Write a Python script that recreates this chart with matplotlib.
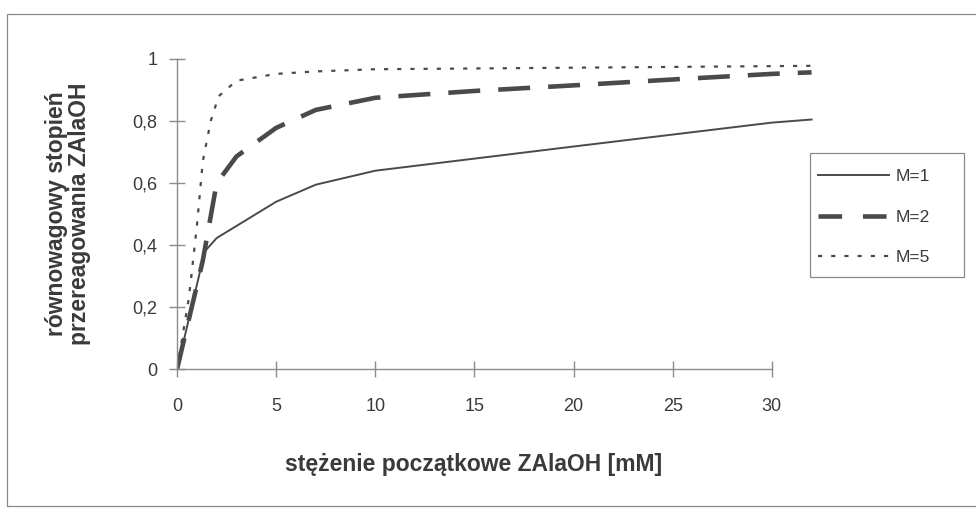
import matplotlib
matplotlib.use("Agg")
import matplotlib.pyplot as plt
from matplotlib.patches import Rectangle
from matplotlib.lines import Line2D

plt.rcParams['font.family'] = ['Liberation Sans', 'DejaVu Sans']
plt.rcParams['lines.scale_dashes'] = False

# Data
x_m1 = [0, 1.4, 2, 5, 7, 10, 20, 30, 32]
y_m1 = [0, 0.38, 0.423, 0.54, 0.595, 0.64, 0.718, 0.795, 0.805]

x_m2 = [0, 1.3, 2, 3, 5, 7, 10, 15, 20, 25, 30, 32]
y_m2 = [0, 0.35, 0.60, 0.686, 0.778, 0.836, 0.875, 0.897, 0.915, 0.934, 0.952, 0.957]

x_m5 = [0, 0.6, 1.0, 1.3, 1.7, 2.1, 3, 5, 7, 10, 20, 30, 32]
y_m5 = [0, 0.23, 0.46, 0.67, 0.80, 0.88, 0.93, 0.952, 0.96, 0.967, 0.972, 0.977, 0.978]

series_labels = ['M=1', 'M=2', 'M=5']
x_ticks = [0, 5, 10, 15, 20, 25, 30]
y_ticks = [0, 0.2, 0.4, 0.6, 0.8, 1.0]
y_ticklabels = ['0', '0,2', '0,4', '0,6', '0,8', '1']
x_label = 'stężenie początkowe ZAlaOH [mM]'
y_label = 'równowagowy stopień\nprzereagowania ZAlaOH'

W, H = 976, 508
fig = plt.figure(figsize=(W / 100, H / 100), dpi=100)
fig.patch.set_facecolor('white')

# outer border of chart area
fig.add_artist(Rectangle((7 / W, 1 - 506 / H), (W + 10 - 7) / W, (506 - 14) / H,
                         transform=fig.transFigure, fill=False,
                         edgecolor='#8a8a8a', linewidth=0.9))

x0px, x1px = 177, 177 + 33 * 19.83
ytop, ybot = 59, 369.3
ax = fig.add_axes([x0px / W, 1 - ybot / H, (x1px - x0px) / W, (ybot - ytop) / H])
ax.set_facecolor('none')

line_col = '#4a4a4a'
ax.plot(x_m1, y_m1, color=line_col, linewidth=1.4, solid_joinstyle='miter', label=series_labels[0])
ax.plot(x_m2, y_m2, color=line_col, linewidth=3.3, dashes=(23, 13), label=series_labels[1])
ax.plot(x_m5, y_m5, color=line_col, linewidth=1.6, dashes=(3, 6.5), label=series_labels[2])

ax.set_xlim(0, 33)
ax.set_ylim(0, 1)
for s in ['top', 'right']:
    ax.spines[s].set_visible(False)
axis_col = '#8c8c8c'
ax.spines['left'].set_color(axis_col)
ax.spines['bottom'].set_color(axis_col)
ax.spines['left'].set_linewidth(1.0)
ax.spines['bottom'].set_linewidth(1.0)
ax.spines['bottom'].set_bounds(0, 30)

ax.set_xticks(x_ticks)
ax.set_xticklabels([str(v) for v in x_ticks])
ax.set_yticks(y_ticks)
ax.set_yticklabels(y_ticklabels)
ax.tick_params(axis='both', direction='inout', length=12, width=1.0, color=axis_col,
               labelsize=13, labelcolor='#3a3a3a')
ax.tick_params(axis='x', pad=15)
ax.tick_params(axis='y', pad=8)

fig.text(474 / W, 1 - 465 / H, x_label, ha='center', va='center',
         fontsize=16.5, fontweight='bold', color='#3a3a3a')
fig.text(68 / W, 1 - 214 / H, y_label, ha='center', va='center', rotation=90,
         multialignment='center', linespacing=1.05,
         fontsize=16.5, fontweight='bold', color='#3a3a3a')

# legend frame drawn as a box, legend entries inside it
fig.add_artist(Rectangle((810 / W, 1 - 277 / H), (964 - 810) / W, (277 - 153) / H,
                         transform=fig.transFigure, fill=True, facecolor='white',
                         edgecolor='#8a8a8a', linewidth=0.9))
handles = [
    Line2D([], [], color=line_col, linewidth=1.4),
    Line2D([], [], color=line_col, linewidth=3.3, dashes=(17, 15)),
    Line2D([], [], color=line_col, linewidth=1.6, dashes=(3, 6.5)),
]
leg = fig.legend(handles, series_labels, loc='center left',
                 bbox_to_anchor=(818 / W, 1 - 217 / H), bbox_transform=fig.transFigure,
                 fontsize=12.5, frameon=False, handlelength=4.1,
                 handletextpad=0.35, labelspacing=1.45, borderpad=0, borderaxespad=0)
for t in leg.get_texts():
    t.set_color('#3a3a3a')

fig.savefig('out.png', dpi=100, facecolor='white')
